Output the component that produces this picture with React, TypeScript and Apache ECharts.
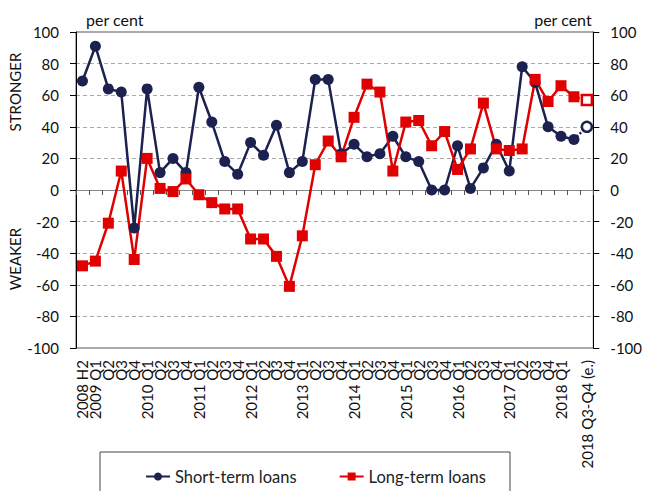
import React, { useEffect, useRef } from "react";
import * as echarts from "echarts";

const categories = [
  "2008 H2", "2009 Q1", "2009 Q2", "2009 Q3", "2009 Q4",
  "2010 Q1", "2010 Q2", "2010 Q3", "2010 Q4",
  "2011 Q1", "2011 Q2", "2011 Q3", "2011 Q4",
  "2012 Q1", "2012 Q2", "2012 Q3", "2012 Q4",
  "2013 Q1", "2013 Q2", "2013 Q3", "2013 Q4",
  "2014 Q1", "2014 Q2", "2014 Q3", "2014 Q4",
  "2015 Q1", "2015 Q2", "2015 Q3", "2015 Q4",
  "2016 Q1", "2016 Q2", "2016 Q3", "2016 Q4",
  "2017 Q1", "2017 Q2", "2017 Q3", "2017 Q4",
  "2018 Q1", "2018 Q2", "2018 Q3-Q4 (e.)",
];

const tickLabels = [
  "2008 H2", "2009 Q1", "Q2", "Q3", "Q4",
  "2010 Q1", "Q2", "Q3", "Q4",
  "2011 Q1", "Q2", "Q3", "Q4",
  "2012 Q1", "Q2", "Q3", "Q4",
  "2013 Q1", "Q2", "Q3", "Q4",
  "2014 Q1", "Q2", "Q3", "Q4",
  "2015 Q1", "Q2", "Q3", "Q4",
  "2016 Q1", "Q2", "Q3", "Q4",
  "2017 Q1", "Q2", "Q3", "Q4",
  "2018 Q1", "", "2018 Q3-Q4 (e.)",
];

// actual values (2008 H2 .. 2018 Q2)
const shortTerm = [
  69, 91, 64, 62, -24, 64, 11, 20, 11, 65,
  43, 18, 10, 30, 22, 41, 11, 18, 70, 70,
  23, 29, 21, 23, 34, 21, 18, 0, 0, 28,
  1, 14, 29, 12, 78, 68, 40, 34, 32,
];
const longTerm = [
  -48, -45, -21, 12, -44, 20, 1, -1, 7, -3,
  -8, -12, -12, -31, -31, -42, -61, -29, 16, 31,
  21, 46, 67, 62, 12, 43, 44, 28, 37, 13,
  26, 55, 26, 25, 26, 70, 56, 66, 59,
];
// estimates for 2018 Q3-Q4
const shortTermEstimate = 40;
const longTermEstimate = 57;

const yTicks = [-100, -80, -60, -40, -20, 0, 20, 40, 60, 80, 100];

const NAVY = "#1c2150";
const RED = "#e00000";
const FONT = "Lato";

function estimateData(actual: number[], est: number) {
  const arr: any[] = categories.map(() => null);
  const last = actual.length - 1;
  arr[last] = { value: actual[last], symbol: "none" };
  arr[categories.length - 1] = est;
  return arr;
}

export default function App() {
  const ref = useRef<HTMLDivElement>(null);
  useEffect(() => {
    if (!ref.current) return;
    const chart = echarts.init(ref.current, null, { renderer: "svg" });
    const yAxisCommon = {
      type: "value" as const,
      min: yTicks[0],
      max: yTicks[yTicks.length - 1],
      interval: 20,
      axisLine: { show: true, lineStyle: { color: "#000", width: 1 } },
      axisTick: { show: true, length: 6, lineStyle: { color: "#000" } },
      axisLabel: { fontFamily: FONT, fontSize: 15, color: "#111", margin: 17 },
    };
    chart.setOption({
      animation: false,
      backgroundColor: "#fff",
      grid: {
        left: 76,
        right: 49,
        top: 32,
        bottom: 143,
        show: true,
        borderColor: "#555",
        borderWidth: 1,
        backgroundColor: "transparent",
      },
      xAxis: [
        {
          type: "category",
          data: categories,
          position: "bottom",
          axisLine: { show: false, onZero: false },
          axisTick: { show: false },
          axisLabel: {
            interval: 0,
            rotate: 90,
            margin: 12,
            fontFamily: FONT,
            fontSize: 15,
            color: "#111",
            formatter: (_v: string, i: number) => tickLabels[i],
          },
        },
        {
          type: "category",
          data: categories,
          position: "top",
          axisLine: { show: true, onZero: true, lineStyle: { color: "#888", width: 1 } },
          axisTick: { show: true, inside: true, length: 5, interval: 0, lineStyle: { color: "#555" } },
          axisLabel: { show: false },
        },
      ],
      yAxis: [
        {
          ...yAxisCommon,
          position: "left",
          splitLine: { show: true, lineStyle: { color: "#aaa", type: [4, 3], width: 1 } },
        },
        {
          ...yAxisCommon,
          position: "right",
          splitLine: { show: false },
        },
      ],
      legend: {
        data: ["Short-term loans", "Long-term loans"],
        left: 140,
        top: 463,
        itemWidth: 24,
        itemHeight: 10,
        itemGap: 42,
        textStyle: { fontFamily: FONT, fontSize: 16.5, color: "#222" },
      },
      graphic: [
        {
          type: "rect",
          shape: { x: 100, y: 452, width: 410, height: 60 },
          style: { fill: "none", stroke: "#444", lineWidth: 1 },
          silent: true,
        },
        {
          type: "text",
          left: 86,
          top: 11,
          style: { text: "per cent", fontFamily: FONT, fontSize: 16, fill: "#111" },
        },
        {
          type: "text",
          right: 53,
          top: 11,
          style: { text: "per cent", fontFamily: FONT, fontSize: 16, fill: "#111" },
        },
        {
          type: "text",
          x: 15,
          y: 92,
          rotation: Math.PI / 2,
          style: {
            text: "STRONGER",
            fontFamily: FONT,
            fontSize: 15,
            fill: "#111",
            align: "center",
            verticalAlign: "middle",
          },
        },
        {
          type: "text",
          x: 15,
          y: 259,
          rotation: Math.PI / 2,
          style: {
            text: "WEAKER",
            fontFamily: FONT,
            fontSize: 15,
            fill: "#111",
            align: "center",
            verticalAlign: "middle",
          },
        },
      ],
      series: [
        {
          name: "Short-term loans",
          type: "line",
          xAxisIndex: 0,
          yAxisIndex: 0,
          data: shortTerm,
          symbol: "circle",
          symbolSize: 11,
          lineStyle: { color: NAVY, width: 2.5 },
          itemStyle: { color: NAVY },
        },
        {
          name: "Short-term estimate",
          type: "line",
          xAxisIndex: 0,
          yAxisIndex: 0,
          data: estimateData(shortTerm, shortTermEstimate),
          connectNulls: false,
          symbol: "circle",
          symbolSize: 10,
          lineStyle: { color: NAVY, width: 2.5, type: [2, 2] },
          itemStyle: { color: "#fff", borderColor: NAVY, borderWidth: 2.5 },
        },
        {
          name: "Long-term loans",
          type: "line",
          xAxisIndex: 0,
          yAxisIndex: 0,
          data: longTerm,
          symbol: "rect",
          symbolSize: 11,
          lineStyle: { color: RED, width: 2.5 },
          itemStyle: { color: RED },
        },
        {
          name: "Long-term estimate",
          type: "line",
          xAxisIndex: 0,
          yAxisIndex: 0,
          data: estimateData(longTerm, longTermEstimate),
          connectNulls: false,
          symbol: "rect",
          symbolSize: 10,
          lineStyle: { color: RED, width: 2.5, type: [2, 2] },
          itemStyle: { color: "#fff", borderColor: RED, borderWidth: 2.5 },
        },
      ],
    });
    return () => chart.dispose();
  }, []);
  return (
    <div
      ref={ref}
      style={{ position: "fixed", left: 0, top: 0, width: 645, height: 491 }}
    />
  );
}
